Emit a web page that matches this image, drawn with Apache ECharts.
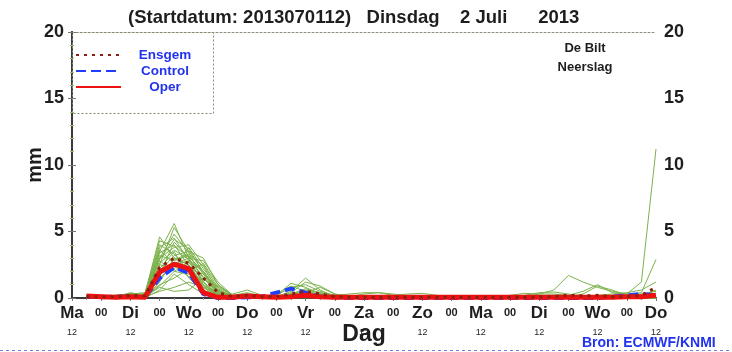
<!DOCTYPE html>
<html>
<head>
<meta charset="utf-8">
<script src="https://cdn.jsdelivr.net/npm/echarts@6/dist/echarts.min.js"></script>
<style>
  html, body { margin: 0; padding: 0; background: #fff; }
  #chart { width: 732px; height: 352px; }
</style>
</head>
<body>
<div id="chart"></div>
<script>
// lead time in hours after Ma 12 UTC
const leadHours = [6, 12, 18, 24, 30, 36, 42, 48, 54, 60, 66, 72, 78, 84, 90, 96, 102, 108, 114, 120,
	126, 132, 138, 144, 150, 156, 162, 168, 174, 180, 186, 192, 198, 204, 210, 216, 222, 228, 234, 240];

const dayNames = ["Ma", "Di", "Wo", "Do", "Vr", "Za", "Zo", "Ma", "Di", "Wo", "Do"];
const yTicks = [0, 5, 10, 15, 20];

// ensemble members (mm per 6 h)
const members = [
	[0.1,0.1,0.2,0.3,0.3, 4.6,3.0,2.5,1.0,0.2, 0.1,0.1,0.0,0.1,0.5, 1.5,0.6,0.1,0,0, 0,0,0,0,0, 0,0,0,0,0, 0,0,0,0,0, 0,0,0,0,0.1],
	[0.2,0.1,0.1,0.4,0.2, 3.5,5.6,3.0,1.5,0.3, 0.1,0.2,0.1,0.2,1.1, 0.8,0.3,0.1,0,0, 0,0,0,0,0, 0,0,0,0,0, 0,0,0,0,0, 0,0,0,0,0],
	[0.1,0.2,0.1,0.2,0.1, 2.5,5.3,3.5,2.0,0.5, 0.1,0.1,0,0,0.4, 1.2,0.9,0.3,0.1,0, 0,0,0,0,0, 0,0,0,0,0, 0,0,0,0,0, 0,0,0,0,0],
	[0.1,0.1,0.1,0.3,0.2, 3.0,3.8,4.0,2.5,0.8, 0.2,0.3,0.1,0.1,0.3, 0.6,0.4,0.2,0.1,0.3, 0.4,0.2,0,0,0, 0,0,0,0,0, 0,0,0,0,0, 0,0,0,0,0],
	[0.2,0.1,0.2,0.2,0.1, 2.0,3.2,3.5,3.0,1.0, 0.2,0.2,0.1,0.2,0.8, 1.0,0.5,0.2,0.1,0, 0,0,0,0,0, 0,0,0,0,0, 0,0,0,0,0, 0,0,0,0,0],
	[0.1,0.1,0.1,0.2,0.3, 3.8,4.5,2.8,1.2,0.1, 0,0.1,0.1,0,0.2, 0.4,0.8,0.3,0.1,0, 0,0,0,0,0, 0,0,0,0,0, 0,0,0,0,0, 0,0,0,0,0],
	[0.1,0.1,0.1,0.3,0.1, 1.5,2.5,2.8,2.0,0.4, 0.3,0.6,0.2,0.1,0.2, 0.3,0.2,0.1,0,0, 0,0,0,0,0, 0,0,0,0,0, 0,0,0,0,0, 0,0,0,0,0],
	[0.2,0.2,0.1,0.2,0.2, 2.8,2.0,1.8,1.0,0.2, 0.2,0.4,0.1,0,0.1, 0.2,0.1,0,0,0, 0,0,0,0,0, 0,0,0,0,0, 0,0,0,0,0, 0,0,0,0,0],
	[0.1,0,0.1,0.2,0.1, 1.0,1.5,2.2,1.8,0.6, 0.1,0.1,0,0.1,0.2, 0.5,0.3,0.2,0.3,0.4, 0.4,0.3,0.1,0,0, 0,0,0,0,0, 0,0,0,0,0, 0,0,0,0,0],
	[0.1,0.1,0.1,0.2,0.2, 2.2,3.5,1.5,0.5,0.1, 0,0.1,0,0.1,0.1, 0.3,0.2,0.1,0,0, 0.1,0.2,0.3,0.35,0.2, 0.1,0,0,0,0, 0,0,0,0,0, 0,0,0,0,0],
	[0,0.1,0.1,0.1,0.1, 0.5,0.8,1.2,0.8,0.2, 0.1,0.1,0,0,0.1, 0.2,0.1,0,0,0, 0,0,0,0,0, 0,0,0,0,0.1, 0.2,0.4,0.45,0.3,0.1, 0,0,0,0,0],
	[0.1,0.1,0,0.1,0, 1.2,3.0,2.5,0.8,0, 0,0.1,0,0,0, 0.1,0.1,0,0,0, 0,0,0,0,0, 0,0,0,0,0.2, 0.35,0.3,0.3,0.2,0.1, 0,0,0,0,0],
	[0.2,0.1,0.1,0.3,0.3, 4.0,3.3,2.0,0.6,0.1, 0,0.1,0,0,0.1, 0.2,0.1,0,0,0, 0,0,0,0,0, 0,0,0,0,0, 0.1,0.3,0.6,1.7,1.2, 0.8,0.5,0.3,0.3,0.5],
	[0.1,0.1,0.1,0.2,0.1, 0.8,0.5,0.6,1.5,0.5, 0.1,0.1,0,0,0, 0.1,0,0,0,0, 0,0,0,0,0, 0,0,0,0,0, 0,0.1,0.2,0.2,0.5, 1.0,0.4,0.3,1.2,11.2],
	[0.2,0.1,0.2,0.2,0.2, 3.2,2.8,3.2,1.8,0.3, 0.1,0.2,0.1,0,0.2, 0.3,0.2,0.1,0,0, 0,0,0,0,0, 0,0,0,0,0, 0,0,0,0.1,0.3, 0.9,0.6,0.2,0.4,2.9],
	[0.1,0.1,0.1,0.2,0.1, 1.8,4.2,3.0,1.0,0.2, 0.1,0.1,0,0,0.1, 0.1,0.1,0,0,0, 0,0,0,0,0, 0,0,0,0,0, 0,0,0,0,0, 0.2,0.3,0.4,0.6,1.2],
	[0,0,0.1,0.1,0, 0.6,1.8,1.0,0.3,0, 0,0,0,0,0, 0,0,0,0,0, 0,0,0,0,0, 0,0,0,0,0, 0,0,0,0,0.1, 0.1,0.2,0.1,0.2,0.6],
	[0.1,0.2,0.1,0.2,0.2, 2.5,2.2,3.8,2.2,0.7, 0.1,0.2,0.1,0.1,0.3, 0.4,0.3,0.1,0,0, 0,0,0,0,0, 0,0,0,0,0, 0,0,0,0,0, 0,0,0,0,0],
	[0.1,0.1,0.1,0.2,0.1, 1.4,2.6,2.0,2.6,1.0, 0.2,0.1,0,0,0.1, 0.2,0.1,0,0,0, 0,0,0,0,0, 0,0,0,0,0, 0,0,0,0,0, 0,0,0,0,0],
	[0.2,0.1,0.1,0.3,0.2, 3.0,4.8,3.4,1.2,0.2, 0.1,0.1,0,0.1,0.3, 0.7,0.4,0.1,0,0, 0,0,0,0,0, 0,0,0,0,0, 0,0,0,0,0, 0,0,0,0,0],
	[0.1,0.1,0.1,0.2,0.2, 2.6,3.6,2.9,1.6,0.3, 0.1,0.1,0,0,0.1, 0.2,0.1,0,0,0, 0,0,0,0,0, 0,0,0,0,0, 0,0,0,0,0, 0,0,0,0,0],
	[0.1,0.2,0.1,0.3,0.4, 4.3,3.9,3.1,2.0,0.6, 0.1,0.2,0.1,0.1,0.2, 0.3,0.2,0.1,0,0, 0,0,0,0,0, 0,0,0,0,0, 0,0,0,0,0, 0,0,0,0,0],
	[0.1,0.1,0.1,0.2,0.1, 1.7,2.9,3.3,2.4,0.5, 0.1,0.1,0,0,0.1, 0.1,0.1,0,0,0, 0,0,0,0,0, 0,0,0,0,0, 0,0,0,0,0, 0,0,0,0,0],
	[0.2,0.1,0.1,0.2,0.2, 3.4,4.0,2.4,0.9,0.1, 0,0.1,0,0,0.1, 0.2,0.1,0,0,0, 0,0,0,0,0, 0,0,0,0,0, 0,0,0,0,0, 0,0,0,0,0],
	[0.1,0.1,0.1,0.2,0.1, 2.1,2.4,1.6,1.4,0.9, 0.2,0.1,0,0,0.1, 0.1,0.1,0,0,0, 0,0,0,0,0, 0,0,0,0,0, 0,0,0,0,0, 0,0,0,0,0],
	[0.1,0.1,0.2,0.3,0.2, 3.6,2.6,3.0,2.8,1.2, 0.2,0.1,0.1,0.3,0.9, 0.5,0.2,0.1,0,0, 0,0,0,0,0, 0,0,0,0,0, 0,0,0,0,0, 0,0,0,0,0],
	[0.1,0.1,0.1,0.1,0.1, 0.9,2.0,2.7,1.2,0.3, 0.1,0.1,0,0,0.1, 0.1,0.1,0,0,0, 0,0,0,0,0, 0,0,0,0,0, 0,0,0,0,0, 0,0,0,0,0],
	[0.2,0.1,0.1,0.2,0.3, 2.9,4.4,3.7,1.9,0.4, 0.1,0.1,0,0.1,0.2, 0.3,0.2,0.1,0,0, 0,0,0,0,0, 0,0,0,0,0, 0,0,0,0,0, 0,0,0,0,0]
];

const ensgem = [0.1,0.1,0.1,0.2,0.15, 2.3,3.0,2.6,1.5,0.4, 0.1,0.2,0.1,0.1,0.3, 0.5,0.3,0.1,0.05,0.05,
	0.05,0.05,0.05,0.05,0.05, 0.05,0.05,0.05,0.05,0.05, 0.05,0.1,0.1,0.2,0.15, 0.2,0.1,0.1,0.2,0.8];
const control = [0.1,0.05,0.1,0.1,0.05, 1.5,2.3,1.9,0.3,0, 0,0.05,0.1,0.4,0.7, 0.4,0.1,0.05,0,0,
	0,0,0,0,0, 0,0,0,0,0, 0,0,0,0,0, 0,0.1,0.2,0.3,0.2];
const oper = [0.15,0.1,0.05,0.1,0.05, 1.95,2.55,2.2,0.4,0.05, 0.05,0.15,0.1,0.05,0.1, 0.2,0.1,0.05,0.05,0.05,
	0.05,0.05,0.05,0.05,0.05, 0.05,0.05,0.05,0.05,0.05, 0.05,0.05,0.05,0.05,0.05, 0.05,0.05,0.1,0.1,0.2];

function pairs(values) {
	return values.map((v, i) => [leadHours[i], v]);
}

const FONT = "Liberation Sans";
const myChart = echarts.init(document.getElementById("chart"), null, { renderer: "canvas" });

const series = [];
members.forEach((m, k) => {
	series.push({
		name: "lid" + (k + 1),
		type: "line",
		data: pairs(m),
		showSymbol: false,
		silent: true,
		lineStyle: { color: "#7cb24c", width: 1 },
		z: 2,
	});
});
series.push({
	name: "Control",
	type: "line",
	data: pairs(control),
	showSymbol: false,
	symbol: "none",
	lineStyle: { color: "#1f3fff", width: 4, type: [10, 5] },
	itemStyle: { color: "#1f3fff" },
	z: 3,
});
series.push({
	name: "Oper",
	type: "line",
	data: pairs(oper),
	showSymbol: false,
	symbol: "none",
	lineStyle: { color: "#ee1111", width: 5 },
	itemStyle: { color: "#ee1111" },
	z: 4,
});
series.push({
	name: "Ensgem",
	type: "line",
	data: pairs(ensgem),
	showSymbol: false,
	symbol: "none",
	lineStyle: { color: "#8a1f12", width: 3, type: [3, 5] },
	itemStyle: { color: "#8a1f12" },
	z: 5,
});

const yAxisBase = {
	type: "value",
	min: 0,
	max: 20,
	interval: 5,
	splitLine: { show: false },
	axisLine: { show: true, lineStyle: { color: "#3a3a3a", width: 2 } },
	axisTick: { show: true, length: 4, lineStyle: { color: "#777" } },
	minorTick: { show: true, splitNumber: 5, length: 2, lineStyle: { color: "#9bbf6e" } },
	axisLabel: {
		fontFamily: FONT,
		fontWeight: "bold",
		fontSize: 18,
		color: "#1e1e1e",
		margin: 8,
		customValues: yTicks,
	},
};

const option = {
	animation: false,
	backgroundColor: "#fff",
	title: {
		text: "(Startdatum: 2013070112)   Dinsdag    2 Juli      2013",
		left: 123,
		top: 3,
		textStyle: { fontFamily: FONT, fontWeight: "bold", fontSize: 18.5, color: "#1e1e1e" },
	},
	grid: { left: 72, right: 76, top: 32, bottom: 54, outerBoundsMode: "none", containLabel: false },
	legend: {
		data: ["Ensgem", "Control", "Oper"],
		orient: "vertical",
		left: 75,
		top: 48,
		padding: 0,
		itemWidth: 45,
		itemHeight: 14,
		itemGap: 2,
		itemStyle: { opacity: 0 },
		formatter: "{a|{name}}",
		textStyle: {
			rich: {
				a: {
					width: 78,
					align: "center",
					fontFamily: FONT,
					fontWeight: "bold",
					fontSize: 13.5,
					color: "#2233ee",
				},
			},
		},
	},
	xAxis: [
		{
			type: "value",
			min: 0,
			max: 240,
			interval: 12,
			position: "bottom",
			splitLine: { show: false },
			axisLine: { show: true, onZero: false, lineStyle: { color: "#3a3a3a", width: 2 } },
			axisTick: { show: true, length: 3, lineStyle: { color: "#777" } },
			minorTick: { show: true, splitNumber: 2, length: 2, lineStyle: { color: "#999" } },
			name: "Dag",
			nameLocation: "middle",
			nameGap: 25,
			nameMoveOverlap: false,
			nameTextStyle: { fontFamily: FONT, fontWeight: "bold", fontSize: 23, color: "#1e1e1e" },
			axisLabel: {
				margin: 5,
				showMinLabel: true,
				showMaxLabel: true,
				formatter: v => {
					if (v % 24 === 0) return "{d|" + dayNames[v / 24] + "}\n{s|12}";
					return "{z|00}\n{s| }";
				},
				rich: {
					d: { fontFamily: FONT, fontWeight: "bold", fontSize: 17, color: "#1e1e1e", lineHeight: 20 },
					z: { fontFamily: FONT, fontWeight: "bold", fontSize: 11, color: "#1e1e1e", lineHeight: 20 },
					s: { fontFamily: FONT, fontSize: 9, color: "#1e1e1e", lineHeight: 20 },
				},
			},
		},
		{
			type: "value",
			min: 0,
			max: 240,
			interval: 12,
			position: "top",
			splitLine: { show: false },
			axisLine: { show: true, onZero: false, lineStyle: { color: "#8a8f80", width: 1, type: [2, 2] } },
			axisTick: { show: false },
			axisLabel: { show: false },
		},
	],
	yAxis: [
		Object.assign({}, yAxisBase, {
			position: "left",
			name: "mm",
			nameLocation: "middle",
			nameGap: 27,
			nameMoveOverlap: false,
			nameTextStyle: { fontFamily: FONT, fontWeight: "bold", fontSize: 20, color: "#1e1e1e" },
		}),
		Object.assign({}, yAxisBase, { position: "right" }),
	],
	graphic: [
		{
			type: "rect",
			shape: { x: 72.5, y: 32.5, width: 141, height: 81 },
			style: { fill: "none", stroke: "#7f8f6a", lineWidth: 1, lineDash: [2, 2] },
			z: 1,
		},
		{
			type: "text",
			x: 585,
			y: 39,
			style: {
				text: "De Bilt\nNeerslag",
				textAlign: "center",
				fontFamily: FONT,
				fontWeight: "bold",
				fontSize: 13,
				lineHeight: 19,
				fill: "#1e1e1e",
			},
		},
		{
			type: "text",
			x: 582,
			y: 336,
			style: {
				text: "Bron: ECMWF/KNMI",
				fontFamily: FONT,
				fontWeight: "bold",
				fontSize: 14,
				fill: "#2233ee",
			},
		},
		{
			type: "line",
			shape: { x1: 0, y1: 350.5, x2: 732, y2: 350.5 },
			style: { stroke: "#7080e0", lineWidth: 1, lineDash: [3, 3] },
		},
	],
	series: series,
};

myChart.setOption(option);
</script>
</body>
</html>
